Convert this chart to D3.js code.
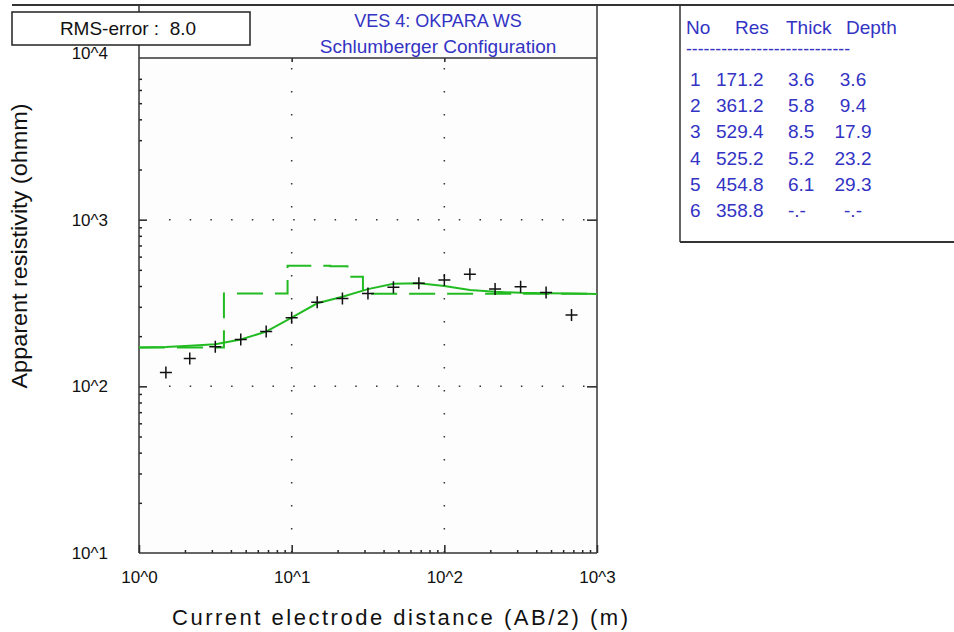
<!DOCTYPE html>
<html>
<head>
<meta charset="utf-8">
<script src="https://cdn.jsdelivr.net/npm/d3@7"></script>
<style>
  body { margin: 0; background: #ffffff; }
  svg text { font-family: "Liberation Sans", Arial, sans-serif; }
</style>
</head>
<body>
<div id="chart"></div>
<script>
// Dados observados (AB/2 em m, resistividade aparente em ohm.m)
const abDist = [1.5, 2.15, 3.16, 4.64, 6.81, 10, 14.7, 21.5, 31.6, 46.4, 68.1, 100, 147, 215, 316, 464, 681];
const rhoObs = [121, 147, 173, 191, 213, 258, 319, 337, 361, 393, 415, 434, 470, 384, 396, 366, 268];

// Curva calculada pelo modelo
const curveAB = [1, 1.5, 2.15, 3.16, 4.64, 6.81, 10, 14.7, 21.5, 31.6, 46.4, 68.1, 100, 147, 215, 316, 464, 681, 1000];
const rhoCalc = [171, 172, 175, 179, 191, 213, 258, 315, 345, 383, 412, 415, 400, 378, 369, 364, 362, 360, 358];

// Camadas do modelo
const layerNo = [1, 2, 3, 4, 5, 6];
const layerRes = [171.2, 361.2, 529.4, 525.2, 454.8, 358.8];
const layerThick = ['3.6', '5.8', '8.5', '5.2', '6.1', '-.-'];
const layerDepth = [3.6, 9.4, 17.9, 23.2, 29.3, null];

const xTickLabels = ['10^0', '10^1', '10^2', '10^3'];
const yTickLabels = ['10^1', '10^2', '10^3', '10^4'];
const rmsError = 8.0;

const W = 954, H = 632;
const green = '#22bb22';
const blue = '#3333c4';

const svg = d3.select('#chart')
  .append('svg')
  .attr('width', W)
  .attr('height', H);

const left = 139, right = 597, bottom = 553, headerY = 58;

const x = d3.scaleLog().domain([1, 1000]).range([left, right]);
const y = d3.scaleLog().domain([10, 10000]).range([bottom, 53]);

// fundo da área do gráfico
svg.append('rect')
  .attr('x', left).attr('y', 5)
  .attr('width', right - left).attr('height', bottom - 5)
  .attr('fill', '#fdfdfd');

// grade pontilhada nas décadas
const gridX = [10, 100];
const gridY = [100, 1000];
svg.selectAll('line.gx')
  .data(gridX)
  .enter()
  .append('line')
  .attr('x1', d => x(d)).attr('x2', d => x(d))
  .attr('y1', headerY + 10).attr('y2', bottom)
  .attr('stroke', '#333')
  .attr('stroke-width', 1.5)
  .attr('stroke-dasharray', '1.5,21.5');
svg.selectAll('line.gy')
  .data(gridY)
  .enter()
  .append('line')
  .attr('x1', left + 30).attr('x2', right)
  .attr('y1', d => y(d)).attr('y2', d => y(d))
  .attr('stroke', '#333')
  .attr('stroke-width', 1.5)
  .attr('stroke-dasharray', '1.5,19.2');

// ticks menores
const minor = [];
[1, 10, 100].forEach(p => d3.range(2, 10).forEach(m => minor.push(m * p)));
const minorY = [];
[10, 100, 1000].forEach(p => d3.range(2, 10).forEach(m => minorY.push(m * p)));

const yAxis = svg.append('g')
  .attr('transform', `translate(${left},0)`)
  .call(d3.axisLeft(y)
    .tickValues([10, 100, 1000, 10000])
    .tickSize(-8)
    .tickPadding(31)
    .tickFormat((d, i) => yTickLabels[i]));
yAxis.select('.domain').remove();
yAxis.selectAll('.tick line').filter(d => d === 10000 || d === 10).remove();

const yMinor = svg.append('g')
  .attr('transform', `translate(${left},0)`)
  .call(d3.axisLeft(y).tickValues(minorY.filter(d => d < 8000)).tickSize(-3).tickFormat(''));
yMinor.select('.domain').remove();

const yRight = svg.append('g')
  .attr('transform', `translate(${right},0)`)
  .call(d3.axisRight(y).tickValues([100, 1000]).tickSize(-10).tickFormat(''));
yRight.select('.domain').remove();

const xAxis = svg.append('g')
  .attr('transform', `translate(0,${bottom})`)
  .call(d3.axisBottom(x)
    .tickValues([1, 10, 100, 1000])
    .tickSize(-8)
    .tickPadding(18)
    .tickFormat((d, i) => xTickLabels[i]));
xAxis.select('.domain').remove();

const xMinor = svg.append('g')
  .attr('transform', `translate(0,${bottom})`)
  .call(d3.axisBottom(x).tickValues(minor).tickSize(-3).tickFormat(''));
xMinor.select('.domain').remove();

const xTop = svg.append('g')
  .attr('transform', `translate(0,${headerY})`)
  .call(d3.axisTop(x).tickValues([10, 100]).tickSize(-4).tickFormat(''));
xTop.select('.domain').remove();

svg.selectAll('.tick line').attr('stroke', '#222').attr('stroke-width', 1.5);
svg.selectAll('.tick text')
  .style('font-size', '17px')
  .attr('fill', '#111');

// molduras
const frame = svg.append('g').attr('fill', 'none').attr('stroke', '#333').attr('stroke-width', 1.5);
frame.append('line').attr('x1', 12).attr('x2', W).attr('y1', 5).attr('y2', 5).attr('stroke-width', 2);
frame.append('line').attr('x1', left).attr('x2', left).attr('y1', 5).attr('y2', bottom);
frame.append('line').attr('x1', right).attr('x2', right).attr('y1', 5).attr('y2', bottom);
frame.append('line').attr('x1', left).attr('x2', right).attr('y1', bottom).attr('y2', bottom);
frame.append('line').attr('x1', left).attr('x2', right).attr('y1', headerY).attr('y2', headerY);
frame.append('line').attr('x1', 680).attr('x2', 680).attr('y1', 5).attr('y2', 242);
frame.append('line').attr('x1', 680).attr('x2', W).attr('y1', 242).attr('y2', 242).attr('stroke-width', 2);

// modelo em degraus (linha tracejada)
const stepPts = [[1, layerRes[0]]];
layerDepth.forEach((d, i) => {
  if (d !== null && i < layerDepth.length - 1) stepPts.push([d, layerRes[i + 1]]);
});
stepPts.push([1000, layerRes[layerRes.length - 1]]);

svg.append('path')
  .datum(stepPts)
  .attr('d', d3.line().x(d => x(d[0])).y(d => y(d[1])).curve(d3.curveStepAfter))
  .attr('fill', 'none')
  .attr('stroke', green)
  .attr('stroke-width', 2)
  .attr('stroke-dasharray', '26,12');

// curva calculada
svg.append('path')
  .datum(curveAB.map((d, i) => [d, rhoCalc[i]]))
  .attr('d', d3.line().x(d => x(d[0])).y(d => y(d[1])))
  .attr('fill', 'none')
  .attr('stroke', green)
  .attr('stroke-width', 2);

// pontos observados (cruzes)
svg.selectAll('path.obs')
  .data(abDist.map((d, i) => [d, rhoObs[i]]))
  .enter()
  .append('path')
  .attr('class', 'obs')
  .attr('transform', d => `translate(${x(d[0])},${y(d[1])})`)
  .attr('d', 'M-6,0H6M0,-6V6')
  .attr('stroke', '#111')
  .attr('stroke-width', 1.5);

// caixa RMS
svg.append('rect')
  .attr('x', 12).attr('y', 12)
  .attr('width', 238).attr('height', 33)
  .attr('fill', '#fff')
  .attr('stroke', '#222')
  .attr('stroke-width', 1.5);
svg.append('text')
  .attr('x', 128).attr('y', 35)
  .attr('text-anchor', 'middle')
  .attr('font-size', '19px')
  .attr('fill', '#111')
  .style('white-space', 'pre')
  .text(`RMS-error :  ${rmsError.toFixed(1)}`);

// título
svg.append('text')
  .attr('x', 438).attr('y', 27)
  .attr('text-anchor', 'middle')
  .attr('font-size', '18px')
  .attr('fill', blue)
  .text('VES 4: OKPARA WS');
svg.append('text')
  .attr('x', 438).attr('y', 53)
  .attr('text-anchor', 'middle')
  .attr('font-size', '19px')
  .attr('fill', blue)
  .text('Schlumberger Configuration');

// rótulos dos eixos
svg.append('text')
  .attr('transform', 'translate(27,246) rotate(-90)')
  .attr('text-anchor', 'middle')
  .attr('font-size', '22px')
  .attr('fill', '#111')
  .attr('textLength', 285)
  .attr('lengthAdjust', 'spacingAndGlyphs')
  .text('Apparent resistivity (ohmm)');
svg.append('text')
  .attr('x', 400).attr('y', 625)
  .attr('text-anchor', 'middle')
  .attr('font-size', '22px')
  .attr('fill', '#111')
  .attr('textLength', 456)
  .attr('lengthAdjust', 'spacing')
  .text('Current electrode distance (AB/2) (m)');

// tabela de camadas
const table = svg.append('g').attr('font-size', '19px').attr('fill', blue);
const head = [['No', 686], ['Res', 735], ['Thick', 786], ['Depth', 846]];
table.selectAll('text.head')
  .data(head)
  .enter()
  .append('text')
  .attr('x', d => d[1]).attr('y', 34)
  .text(d => d[0]);
table.append('text')
  .attr('x', 686).attr('y', 55)
  .attr('textLength', 164)
  .attr('lengthAdjust', 'spacingAndGlyphs')
  .text('----------------------------');

const rowY = i => 86 + i * 26.2;
table.selectAll('text.no')
  .data(layerNo)
  .enter()
  .append('text')
  .attr('x', 690).attr('y', (d, i) => rowY(i))
  .text(d => d);
table.selectAll('text.res')
  .data(layerRes)
  .enter()
  .append('text')
  .attr('x', 716).attr('y', (d, i) => rowY(i))
  .text(d => d.toFixed(1));
table.selectAll('text.thick')
  .data(layerThick)
  .enter()
  .append('text')
  .attr('x', 788).attr('y', (d, i) => rowY(i))
  .text(d => d);
table.selectAll('text.depth')
  .data(layerDepth)
  .enter()
  .append('text')
  .attr('x', 853).attr('y', (d, i) => rowY(i))
  .attr('text-anchor', 'middle')
  .text(d => d === null ? '-.-' : d.toFixed(1));
</script>
</body>
</html>
